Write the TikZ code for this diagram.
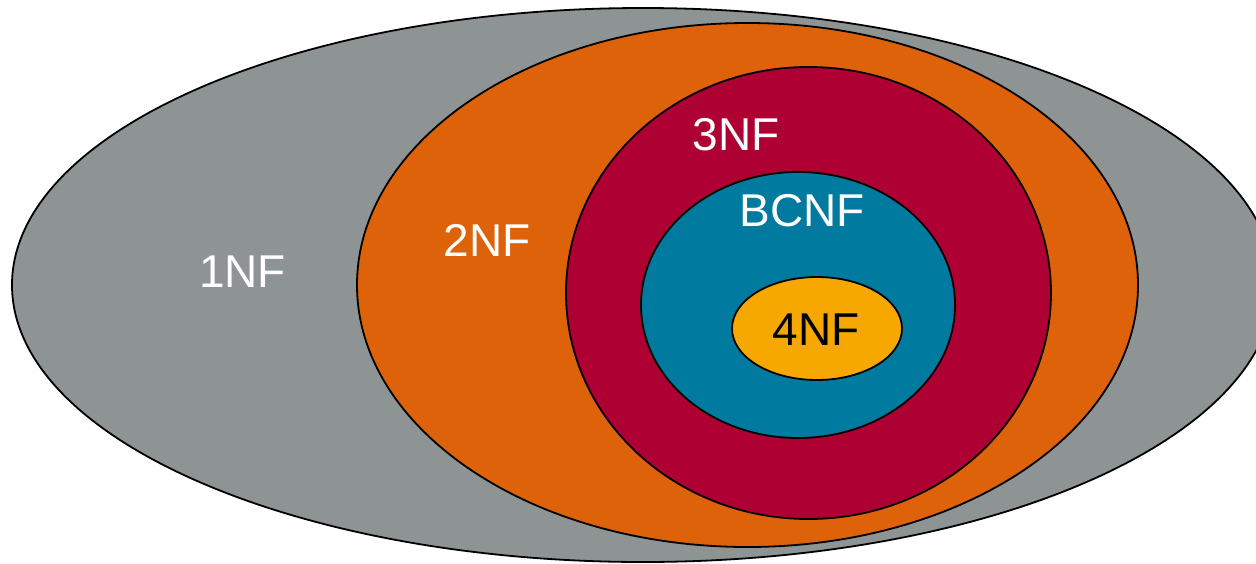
\documentclass[tikz,border=0pt]{standalone}
\usepackage{fontspec}
\setmainfont{Liberation Sans}
\usetikzlibrary{shapes.geometric}
\definecolor{nfgray}{HTML}{8E9394}
\definecolor{nforange}{HTML}{DE6209}
\definecolor{nfcrimson}{HTML}{AE0033}
\definecolor{nfteal}{HTML}{007A9E}
\definecolor{nfyellow}{HTML}{F7A800}
\tikzset{
  setbox/.style={ellipse, draw=black, line width=1.8pt, inner sep=0pt},
  setlabel/.style={font=\fontsize{46}{50}\selectfont, text=white, inner sep=0pt, anchor=center},
}
\begin{document}
\begin{tikzpicture}[x=1pt, y=-1pt]
\useasboundingbox (0,0) rectangle (1256,563);
\clip (0,0) rectangle (1256,563);
\node[setbox, fill=nfgray, minimum width=1262pt, minimum height=554pt] (nf1) at (643,285) {};
\node[setbox, fill=nforange, minimum width=781pt, minimum height=524pt] (nf2) at (747.5,285) {};
\node[setbox, fill=nfcrimson, minimum width=485pt, minimum height=452pt] (nf3) at (808.5,293) {};
\node[setbox, fill=nfteal, minimum width=314pt, minimum height=266pt] (bcnf) at (798,305) {};
\node[setbox, fill=nfyellow, minimum width=170pt, minimum height=103pt] (nf4) at (817,328.5) {};
\node[setlabel] (t1) at (242.5,271.5) {1NF};
\node[setlabel] (t2) at (487,240) {2NF};
\node[setlabel] (t3) at (736,135) {3NF};
\node[setlabel] (tb) at (802,210.5) {BCNF};
\node[setlabel, text=black] (t4) at (816,329.5) {4NF};
\end{tikzpicture}
\end{document}
